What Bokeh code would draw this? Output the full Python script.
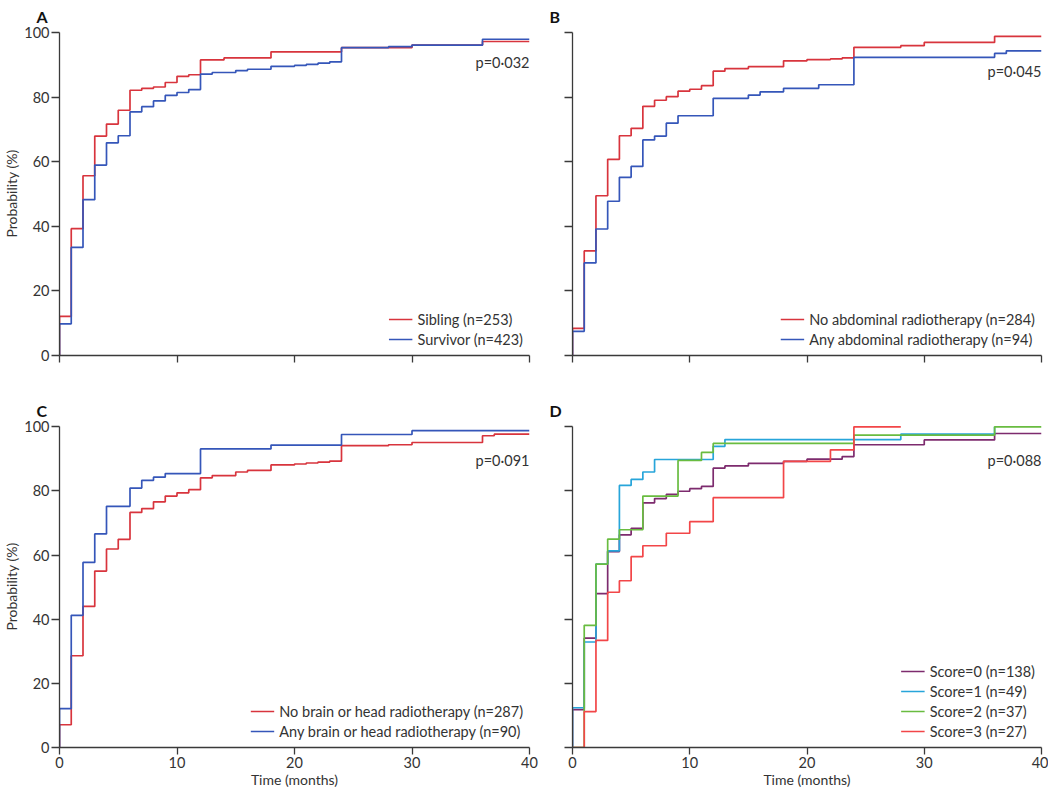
from bokeh.plotting import figure
from bokeh.layouts import column, row
from bokeh.models import Label, FixedTicker, CustomJSTickFormatter
from bokeh.embed import file_html
from bokeh.resources import INLINE

# ---------------- data ----------------
month_ticks = [0, 10, 20, 30, 40]
prob_ticks = [0, 20, 40, 60, 80, 100]

# Panel A
a_sib_t = [0, 1, 2, 3, 4, 5, 6, 7, 8, 9, 10, 11, 12, 14, 18, 24, 30, 36]
a_sib_p = [12.1, 39.3, 55.7, 68.0, 71.7, 76.0, 82.2, 82.8, 83.2, 84.6, 86.5, 87.0, 91.6, 92.2, 94.1, 95.4, 96.2, 97.3]
a_sur_t = [0, 1, 2, 3, 4, 5, 6, 7, 8, 9, 10, 11, 12, 13, 15, 16, 18, 20, 21, 22, 23, 24, 28, 30, 36]
a_sur_p = [9.8, 33.5, 48.3, 59.0, 65.9, 68.1, 75.5, 77.1, 78.9, 80.6, 81.5, 82.4, 87.2, 87.7, 88.3, 88.7, 89.6, 89.9, 90.2, 90.6, 91.0, 95.4, 95.7, 96.2, 98.0]

# Panel B
b_no_t = [0, 1, 2, 3, 4, 5, 6, 7, 8, 9, 10, 11, 12, 13, 15, 18, 20, 22, 23, 24, 28, 30, 36]
b_no_p = [8.4, 32.4, 49.5, 60.8, 68.1, 70.4, 77.2, 79.1, 80.2, 81.9, 82.5, 83.6, 88.1, 88.9, 89.5, 91.3, 91.7, 91.9, 92.2, 95.5, 96.0, 97.0, 98.9]
b_any_t = [0, 1, 2, 3, 4, 5, 6, 7, 8, 9, 12, 15, 16, 18, 21, 24, 36, 37]
b_any_p = [7.5, 28.7, 39.2, 47.8, 55.2, 58.6, 66.8, 68.0, 72.0, 74.3, 79.7, 80.7, 81.7, 82.8, 83.9, 92.4, 93.6, 94.4]

# Panel C
c_no_t = [0, 1, 2, 3, 4, 5, 6, 7, 8, 9, 10, 11, 12, 13, 15, 16, 18, 20, 21, 22, 23, 24, 28, 30, 36, 37]
c_no_p = [7.1, 28.6, 44.0, 55.0, 61.9, 64.9, 73.3, 74.5, 76.6, 78.4, 79.4, 80.4, 84.1, 84.8, 85.9, 86.4, 88.1, 88.4, 88.7, 89.0, 89.3, 94.1, 94.4, 95.1, 97.2, 97.7]
c_any_t = [0, 1, 2, 3, 4, 6, 7, 8, 9, 12, 18, 24, 30]
c_any_p = [12.1, 41.2, 57.7, 66.6, 75.2, 80.9, 83.3, 84.3, 85.4, 93.1, 94.3, 97.6, 98.8]

# Panel D
d0_t = [0, 1, 2, 3, 4, 5, 6, 7, 8, 9, 10, 11, 12, 13, 15, 18, 20, 23, 24, 30, 36]
d0_p = [11.8, 34.1, 48.0, 61.1, 66.3, 68.3, 76.3, 77.6, 78.9, 79.9, 80.7, 81.4, 87.1, 87.8, 88.6, 89.2, 89.9, 90.7, 94.4, 95.9, 97.9]
d1_t = [0, 1, 2, 3, 4, 5, 6, 7, 12, 13, 28, 36]
d1_p = [12.4, 32.9, 57.2, 61.3, 81.7, 83.6, 85.9, 89.8, 93.9, 96.0, 97.7, 100.0]
d2_t = [0, 1, 2, 3, 4, 6, 9, 11, 12, 24, 36]
d2_p = [0.0, 38.1, 57.2, 65.0, 67.9, 78.4, 89.5, 92.0, 94.8, 97.4, 100.0]
d3_t = [0, 1, 2, 3, 4, 5, 6, 8, 10, 12, 18, 22, 24]
d3_p = [0.0, 11.2, 33.4, 48.4, 52.0, 59.5, 62.9, 66.8, 70.4, 77.9, 89.2, 92.8, 100.0]
d_end = [40, 36, 40, 28]

# ---------------- styling ----------------
FONT = "Lato"
TEXT = "#333333"
AXIS = "#3a3a3a"
RED = "#d8343d"
BLUE = "#3556b9"
D_COLORS = ["#7d2b6e", "#27a5da", "#69bc40", "#f24648"]
LW = 1.7


def km(p, t, pr, end, color, label):
    xs = [0] + list(t) + [end]
    ys = [0] + list(pr) + [pr[-1]]
    p.step(xs, ys, mode="after", line_color=color, line_width=LW, legend_label=label)


def make_fig(letter, width, height, left, right, top, bottom, xlabels, ylabels, standoff):
    p = figure(width=width, height=height, x_range=(0, 40), y_range=(0, 100.4),
               output_backend="svg", toolbar_location=None, title=letter,
               min_border_left=left, min_border_right=right,
               min_border_top=top, min_border_bottom=bottom)
    p.outline_line_color = None
    p.xgrid.visible = False
    p.ygrid.visible = False
    p.title.align = "left"
    p.title.vertical_align = "top"
    p.title.offset = -23
    p.title.standoff = standoff
    p.title.text_font = FONT
    p.title.text_font_size = "16px"
    p.title.text_font_style = "bold"
    p.title.text_color = "#111111"
    for ax in (p.xaxis[0], p.yaxis[0]):
        ax.axis_line_color = AXIS
        ax.axis_line_width = 1.3
        ax.major_tick_line_color = AXIS
        ax.major_tick_line_width = 1.3
        ax.major_tick_in = 0
        ax.minor_tick_line_color = None
        ax.major_label_text_font = FONT
        ax.major_label_text_font_size = "14.5px"
        ax.major_label_text_color = TEXT
        ax.major_label_standoff = 2
        ax.axis_label_text_font = FONT
        ax.axis_label_text_font_size = "14px"
        ax.axis_label_text_font_style = "normal"
        ax.axis_label_text_color = TEXT
    p.xaxis.major_tick_out = 7
    p.yaxis.major_tick_out = 8
    p.xaxis.axis_label_standoff = 0
    p.yaxis.axis_label_standoff = 1
    p.xaxis.ticker = FixedTicker(ticks=month_ticks, minor_ticks=[])
    p.yaxis.ticker = FixedTicker(ticks=prob_ticks, minor_ticks=[])
    p.yaxis.bounds = (0, 100)
    if xlabels:
        p.xaxis.axis_label = "Time (months)"
    else:
        p.xaxis.formatter = CustomJSTickFormatter(code="return ''")
    if ylabels:
        p.yaxis.axis_label = "Probability (%)"
    else:
        p.yaxis.formatter = CustomJSTickFormatter(code="return ''")
    return p


def style_legend(p):
    lg = p.legend[0]
    lg.location = "bottom_right"
    lg.background_fill_alpha = 0
    lg.border_line_alpha = 0
    lg.label_text_font = FONT
    lg.label_text_font_size = "14.5px"
    lg.label_text_color = TEXT
    lg.glyph_width = 24
    lg.glyph_height = 20
    lg.label_height = 20
    lg.spacing = 0
    lg.padding = 6
    lg.margin = 0
    lg.label_standoff = 5


def pval(p, text, y):
    p.add_layout(Label(x=40, y=y, text=text, text_align="right", text_baseline="middle",
                       text_font=FONT, text_font_size="14.5px", text_color=TEXT))


W_L, W_R = 550, 498
H_TOP, H_BOT = 388, 402

pa = make_fig("A", W_L, H_TOP, 59, 21, 31, 33, False, True, 8)
km(pa, a_sib_t, a_sib_p, 40, RED, "Sibling (n=253)")
km(pa, a_sur_t, a_sur_p, 40, BLUE, "Survivor (n=423)")
pval(pa, "p=0·032", 90.7)
style_legend(pa)

pb = make_fig("B", W_R, H_TOP, 22, 7, 31, 33, False, False, 8)
km(pb, b_no_t, b_no_p, 40, RED, "No abdominal radiotherapy (n=284)")
km(pb, b_any_t, b_any_p, 40, BLUE, "Any abdominal radiotherapy (n=94)")
pval(pb, "p=0·045", 87.9)
style_legend(pb)

pc = make_fig("C", W_L, H_BOT, 59, 21, 37, 42, True, True, 8)
km(pc, c_no_t, c_no_p, 40, RED, "No brain or head radiotherapy (n=287)")
km(pc, c_any_t, c_any_p, 40, BLUE, "Any brain or head radiotherapy (n=90)")
pval(pc, "p=0·091", 89.5)
style_legend(pc)

pd_ = make_fig("D", W_R, H_BOT, 22, 7, 37, 42, True, False, 8)
d_series = [(d0_t, d0_p, "Score=0 (n=138)"), (d1_t, d1_p, "Score=1 (n=49)"),
            (d2_t, d2_p, "Score=2 (n=37)"), (d3_t, d3_p, "Score=3 (n=27)")]
for (t, pr, lab), col, end in zip(d_series, D_COLORS, d_end):
    km(pd_, t, pr, end, col, lab)
pval(pd_, "p=0·088", 89.5)
style_legend(pd_)

layout = column(row(pa, pb), row(pc, pd_))
open("out.html", "w").write(file_html(layout, INLINE))
